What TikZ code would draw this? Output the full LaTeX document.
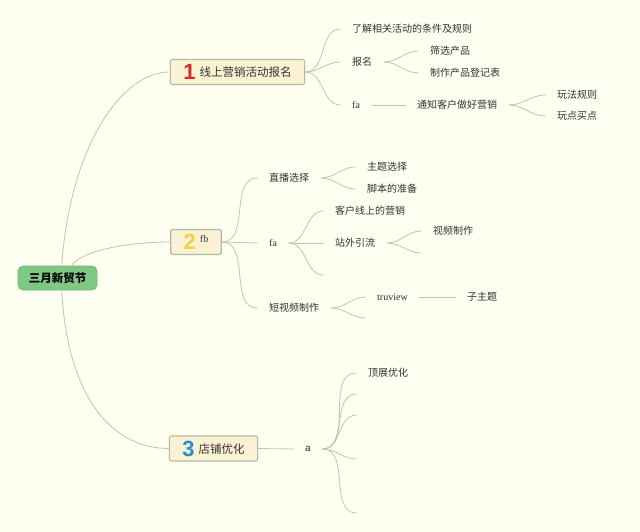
\documentclass[tikz,border=0pt]{standalone}
\usepackage{fontspec}
\setmainfont{Liberation Serif}
\newfontfamily\cjk{Noto Sans CJK SC}
\newfontfamily\numfont{Liberation Sans}
\definecolor{bgc}{HTML}{FEFEF1}
\definecolor{linec}{HTML}{C4C4B0}
\definecolor{rootfill}{HTML}{7EC784}
\definecolor{rootdraw}{HTML}{72B878}
\definecolor{topfill}{HTML}{FBF2D4}
\definecolor{topdraw}{HTML}{A9BEA4}
\definecolor{txt}{HTML}{333333}
\definecolor{numred}{HTML}{D42A35}
\definecolor{numyel}{HTML}{F2D24A}
\definecolor{numblue}{HTML}{2B8DD6}
\newcommand\mmnum[2]{\raisebox{-3pt}{\numfont\bfseries\fontsize{22}{22}\selectfont\color{#1}#2}}
\begin{document}
\begin{tikzpicture}[x=1pt,y=-1pt,
  mmroot/.style={draw=rootdraw, line width=0.6pt, fill=rootfill, rounded corners=5pt,
    minimum width=79pt, minimum height=24pt, inner sep=0pt, text=black,
    font=\cjk\bfseries\fontsize{11.5}{13}\selectfont},
  mmtopic/.style={draw=topdraw, line width=1.2pt, fill=topfill, rounded corners=1.5pt,
    minimum height=25pt, inner xsep=13pt, inner ysep=0pt, text=txt,
    font=\cjk\fontsize{11.5}{13}\selectfont},
  mmleaf/.style={anchor=west, inner xsep=11.5pt, inner ysep=2pt, text=txt,
    font=\cjk\fontsize{10}{12}\selectfont},
  mmlat/.style={mmleaf, font=\fontsize{10}{12}\selectfont},
  mmsans/.style={mmleaf, font=\numfont\fontsize{10}{12}\selectfont},
  mmline/.style={draw=linec, line width=0.8pt},
  mmcurve/.style={mmline, out=0, in=180, looseness=1}]
\fill[bgc] (0,0) rectangle (640,532);
\useasboundingbox (0,0) rectangle (640,532);

% root and main topics
\node[mmroot] (root) at (57.5,278) {三月新贸节};
\node[mmtopic] (t1) at (237.5,72) {\mmnum{numred}{1}\hspace{4pt}线上营销活动报名};
\node[mmtopic] (t2) at (196,242) {\mmnum{numyel}{2}\hspace{4pt}\raisebox{4.5pt}{\rmfamily\fontsize{10}{12}\selectfont fb}};
\node[mmtopic] (t3) at (213.5,448.5) {\mmnum{numblue}{3}\hspace{4pt}店铺优化};

\draw[mmline] ([xshift=44pt]root.north west) .. controls +(8,-116) and +(-50,0) .. (t1.west);
\draw[mmline] ([xshift=54pt]root.north west) .. controls +(8,-14) and +(-45,0) .. (t2.west);
\draw[mmline] ([xshift=44pt]root.south west) .. controls +(6,110) and +(-55,0) .. (t3.west);

% topic 1
\node[mmleaf] (c11) at (340.5,29) {了解相关活动的条件及规则};
\node[mmleaf] (c12) at (340.5,62) {报名};
\node[mmlat] (c13) at (340.5,105) {fa};
\node[mmleaf] (c121) at (418.5,51) {筛选产品};
\node[mmleaf] (c122) at (418.5,73) {制作产品登记表};
\node[mmleaf] (c131) at (405.5,105) {通知客户做好营销};
\node[mmleaf] (c1311) at (545.5,95) {玩法规则};
\node[mmleaf] (c1312) at (545.5,116) {玩点买点};
\draw[mmline] (t1.east) to[mmcurve] (c11.west);
\draw[mmline] (t1.east) to[mmcurve] (c12.west);
\draw[mmline] (t1.east) to[mmcurve] (c13.west);
\draw[mmline] (c12.east) to[mmcurve] (c121.west);
\draw[mmline] (c12.east) to[mmcurve] (c122.west);
\draw[mmline] (c13.east) -- (c131.west);
\draw[mmline] (c131.east) to[mmcurve] (c1311.west);
\draw[mmline] (c131.east) to[mmcurve] (c1312.west);

% topic 2
\node[mmleaf] (d1) at (257.5,178) {直播选择};
\node[mmlat] (d2) at (257.5,243) {fa};
\node[mmleaf] (d3) at (257.5,308) {短视频制作};
\node[mmleaf] (d11) at (355.5,167) {主题选择};
\node[mmleaf] (d12) at (355.5,189) {脚本的准备};
\node[mmleaf] (d21) at (323.5,211) {客户线上的营销};
\node[mmleaf] (d22) at (323.5,243) {站外引流};
\coordinate (d23) at (323.5,275);
\node[mmleaf] (d221) at (421.5,231) {视频制作};
\coordinate (d222) at (421.5,253);
\node[mmlat] (d31) at (365.5,297) {truview};
\coordinate (d32) at (365.5,318);
\node[mmleaf] (d311) at (455.5,297) {子主题};
\draw[mmline] (t2.east) to[mmcurve] (d1.west);
\draw[mmline] (t2.east) -- (d2.west);
\draw[mmline] (t2.east) to[mmcurve] (d3.west);
\draw[mmline] (d1.east) to[mmcurve] (d11.west);
\draw[mmline] (d1.east) to[mmcurve] (d12.west);
\draw[mmline] (d2.east) to[mmcurve] (d21.west);
\draw[mmline] (d2.east) -- (d22.west);
\draw[mmline] (d2.east) to[mmcurve] (d23);
\draw[mmline] (d22.east) to[mmcurve] (d221.west);
\draw[mmline] (d22.east) to[mmcurve] (d222);
\draw[mmline] (d3.east) to[mmcurve] (d31.west);
\draw[mmline] (d3.east) to[mmcurve] (d32);
\draw[mmline] (d31.east) -- (d311.west);

% topic 3
\node[mmsans] (e1) at (293.5,449) {a};
\node[mmleaf] (e11) at (356.5,373) {顶展优化};
\coordinate (e12) at (356.5,394);
\coordinate (e13) at (356.5,415);
\coordinate (e14) at (356.5,459);
\coordinate (e15) at (356.5,513);
\draw[mmline] (t3.east) -- (e1.west);
\draw[mmline] (e1.east) to[mmcurve] (e11.west);
\draw[mmline] (e1.east) to[mmcurve] (e12);
\draw[mmline] (e1.east) to[mmcurve] (e13);
\draw[mmline] (e1.east) to[mmcurve] (e14);
\draw[mmline] (e1.east) to[mmcurve] (e15);
\end{tikzpicture}
\end{document}
